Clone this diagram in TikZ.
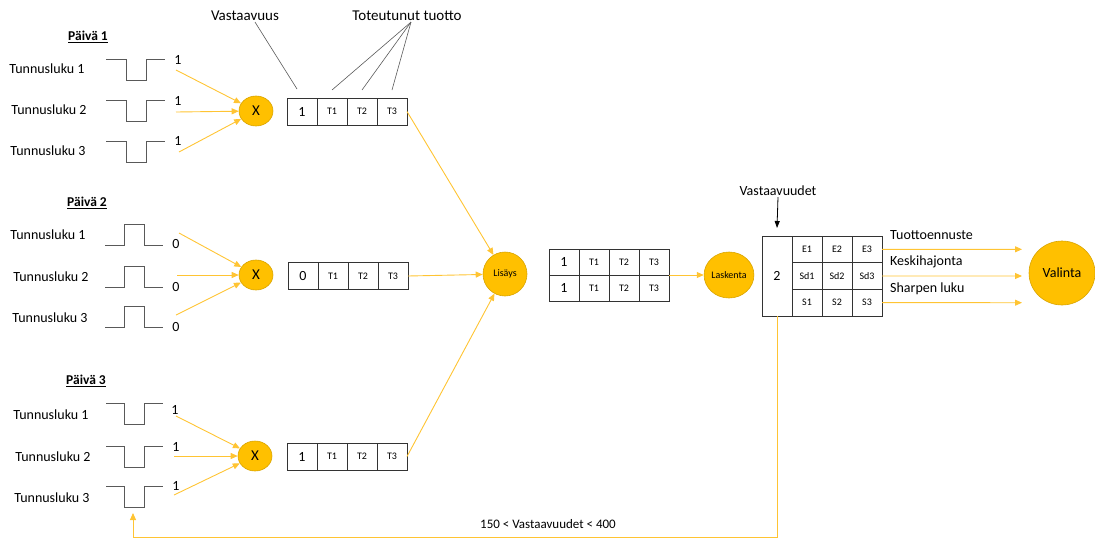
\documentclass[tikz,border=0pt]{standalone}
\usepackage{fontspec}
\setmainfont{Carlito}
\usetikzlibrary{positioning,arrows.meta,shapes.geometric}
\definecolor{opfill}{HTML}{FFC000}
\definecolor{opdraw}{HTML}{D9A400}
\definecolor{flowline}{HTML}{FFC433}
\tikzset{
  cell/.style={draw=black!80, line width=0.8pt, minimum width=30pt,
    minimum height=27pt, inner sep=0pt, outer sep=0pt, font=\fontsize{10}{11}\selectfont},
  keycell/.style={cell, font=\fontsize{14}{15}\selectfont},
  opnode/.style={ellipse, fill=opfill, draw=opdraw, line width=0.6pt, inner sep=0pt},
  mulnode/.style={opnode, minimum width=34pt, minimum height=30pt,
    font=\fontsize{15}{16}\selectfont},
  sumnode/.style={opnode, minimum size=44pt, font=\fontsize{10}{11}\selectfont},
  lab/.style={font=\fontsize{14}{16}\selectfont, inner sep=1pt},
  toplab/.style={font=\fontsize{15}{17}\selectfont, inner sep=1pt},
  daylab/.style={font=\fontsize{13.5}{15}\selectfont\bfseries, inner sep=1pt},
  wave/.style={draw=black!65, line width=1pt},
  leader/.style={draw=black!65, line width=0.6pt},
  flow/.style={-{Triangle[length=7pt, width=6pt]}, draw=flowline, line width=0.9pt},
  pointer/.style={-{Triangle[length=7pt, width=5pt]}, draw=black, line width=0.8pt},
}

\begin{document}
\begin{tikzpicture}[x=1pt, y=-1pt]
\useasboundingbox (0,0) rectangle (1095,544);
% --- day 1 ---
\node[daylab] (d1) at (88,37) {\underline{Päivä 1}};
\node[lab] (t11) at (47,69) {Tunnusluku 1};
\node[lab] (t12) at (49,110) {Tunnusluku 2};
\node[lab] (t13) at (48,151) {Tunnusluku 3};
\foreach \y in {59,100,141}
  \draw[wave] (106,\y) -- (126,\y) -- (126,\y+21) -- (146,\y+21) -- (146,\y) -- (165,\y);
\node[lab] (v11) at (178,60) {1};
\node[lab] (v12) at (178,101) {1};
\node[lab] (v13) at (178,141) {1};
\node[mulnode] (x1) at (256,111) {X};
\coordinate (s11) at (176,70);
\coordinate (s12) at (176,112);
\coordinate (s13) at (179,152);
\draw[flow] (s11) -- (x1);
\draw[flow] (s12) -- (x1);
\draw[flow] (s13) -- (x1);
\node[keycell] (a1v) at (302,111.5) {1};
\node[cell, right=0pt of a1v] (a1t1) {T1};
\node[cell, right=0pt of a1t1] (a1t2) {T2};
\node[cell, right=0pt of a1t2] (a1t3) {T3};
% --- leaders ---
\node[toplab] (vast) at (245,16) {Vastaavuus};
\node[toplab] (tot) at (407,16) {Toteutunut tuotto};
\draw[leader] ([xshift=10pt]vast.south) -- ([xshift=-5pt, yshift=9pt]a1v.north);
\draw[leader] ([xshift=4pt]tot.south) -- ([yshift=8pt]a1t1.north);
\draw[leader] ([xshift=4pt]tot.south) -- ([yshift=8pt]a1t2.north);
\draw[leader] ([xshift=4pt]tot.south) -- ([yshift=8pt]a1t3.north);
% --- day 2 ---
\node[daylab] (d2) at (87,203) {\underline{Päivä 2}};
\node[lab] (t21) at (48,235) {Tunnusluku 1};
\node[lab] (t22) at (51,277) {Tunnusluku 2};
\node[lab] (t23) at (50,318) {Tunnusluku 3};
\foreach \y in {245,287,327}
  \draw[wave] (105,\y) -- (124,\y) -- (124,\y-21) -- (144,\y-21) -- (144,\y) -- (163,\y);
\node[lab] (v21) at (176,244) {0};
\node[lab] (v22) at (176,287) {0};
\node[lab] (v23) at (176,327) {0};
\node[mulnode] (x2) at (256,275) {X};
\coordinate (s21) at (179,233);
\coordinate (s22) at (177,275);
\coordinate (s23) at (176,315);
\draw[flow] (s21) -- (x2);
\draw[flow] (s22) -- (x2);
\draw[flow] (s23) -- (x2);
\node[keycell] (a2v) at (303,276) {0};
\node[cell, right=0pt of a2v] (a2t1) {T1};
\node[cell, right=0pt of a2t1] (a2t2) {T2};
\node[cell, right=0pt of a2t2] (a2t3) {T3};
% --- day 3 ---
\node[daylab] (d3) at (86,381) {\underline{Päivä 3}};
\node[lab] (t31) at (51,415) {Tunnusluku 1};
\node[lab] (t32) at (53,457) {Tunnusluku 2};
\node[lab] (t33) at (52,498) {Tunnusluku 3};
\foreach \y in {403,446,486}
  \draw[wave] (106,\y) -- (124,\y) -- (124,\y+21) -- (144,\y+21) -- (144,\y) -- (163,\y);
\node[lab] (v31) at (175,410) {1};
\node[lab] (v32) at (176,447) {1};
\node[lab] (v33) at (176,486) {1};
\node[mulnode] (x3) at (255,456) {X};
\coordinate (s31) at (176,416);
\coordinate (s32) at (174,456);
\coordinate (s33) at (174,495);
\draw[flow] (s31) -- (x3);
\draw[flow] (s32) -- (x3);
\draw[flow] (s33) -- (x3);
\node[keycell] (a3v) at (302,456.5) {1};
\node[cell, right=0pt of a3v] (a3t1) {T1};
\node[cell, right=0pt of a3t1] (a3t2) {T2};
\node[cell, right=0pt of a3t2] (a3t3) {T3};
% --- sum and merged table ---
\node[sumnode] (lis) at (505,274) {Lisäys};
\draw[flow] (a1t3.east) -- (lis);
\draw[flow] (a2t3.east) -- (lis);
\draw[flow] (a3t3.east) -- (lis);
\node[keycell, minimum height=26pt] (m1v) at (564,262) {1};
\node[cell, minimum height=26pt, right=0pt of m1v] (m1t1) {T1};
\node[cell, minimum height=26pt, right=0pt of m1t1] (m1t2) {T2};
\node[cell, minimum height=26pt, right=0pt of m1t2] (m1t3) {T3};
\node[keycell, minimum height=26pt, below=0pt of m1v] (m2v) {1};
\node[cell, minimum height=26pt, right=0pt of m2v] (m2t1) {T1};
\node[cell, minimum height=26pt, right=0pt of m2t1] (m2t2) {T2};
\node[cell, minimum height=26pt, right=0pt of m2t2] (m2t3) {T3};
\node[sumnode, minimum size=46pt] (lask) at (729,275) {Laskenta};
\draw[flow] (m1t3.south east) -- (lask);
% --- statistics table ---
\node[keycell, minimum height=80pt] (cnt) at (777,276) {2};
\node[cell, minimum height=26.67pt, anchor=north west] (e1) at (cnt.north east) {E1};
\node[cell, minimum height=26.67pt, right=0pt of e1] (e2) {E2};
\node[cell, minimum height=26.67pt, right=0pt of e2] (e3) {E3};
\node[cell, minimum height=26.67pt, below=0pt of e1] (sd1) {Sd1};
\node[cell, minimum height=26.67pt, right=0pt of sd1] (sd2) {Sd2};
\node[cell, minimum height=26.67pt, right=0pt of sd2] (sd3) {Sd3};
\node[cell, minimum height=26.67pt, below=0pt of sd1] (sh1) {S1};
\node[cell, minimum height=26.67pt, right=0pt of sh1] (sh2) {S2};
\node[cell, minimum height=26.67pt, right=0pt of sh2] (sh3) {S3};
\node[lab] (vlab) at (778,191) {Vastaavuudet};
\draw[pointer] (vlab.south) -- ([yshift=8pt]cnt.north);
% --- outputs ---
\node[opnode, minimum width=66pt, minimum height=64pt, font=\fontsize{14}{16}\selectfont] (val) at (1062,273) {Valinta};
\coordinate (o1) at (1022,249.3);
\coordinate (o2) at (1022,276);
\coordinate (o3) at (1022,302.7);
\draw[flow] (e3.east) -- (o1);
\draw[flow] (sd3.east) -- (o2);
\draw[flow] (sh3.east) -- (o3);
\node[lab, anchor=west] (ol1) at (889,235) {Tuottoennuste};
\node[lab, anchor=west] (ol2) at (889,262) {Keskihajonta};
\node[lab, anchor=west] (ol3) at (889,289) {Sharpen luku};
% --- feedback ---
\coordinate (fbturn) at (133,537);
\coordinate (fbend) at (133,513);
\draw[flow] (cnt.south) |- (fbturn) -- (fbend);
\node[lab, font=\fontsize{13}{15}\selectfont] (range) at (548,524) {150 < Vastaavuudet < 400};
\end{tikzpicture}
\end{document}
